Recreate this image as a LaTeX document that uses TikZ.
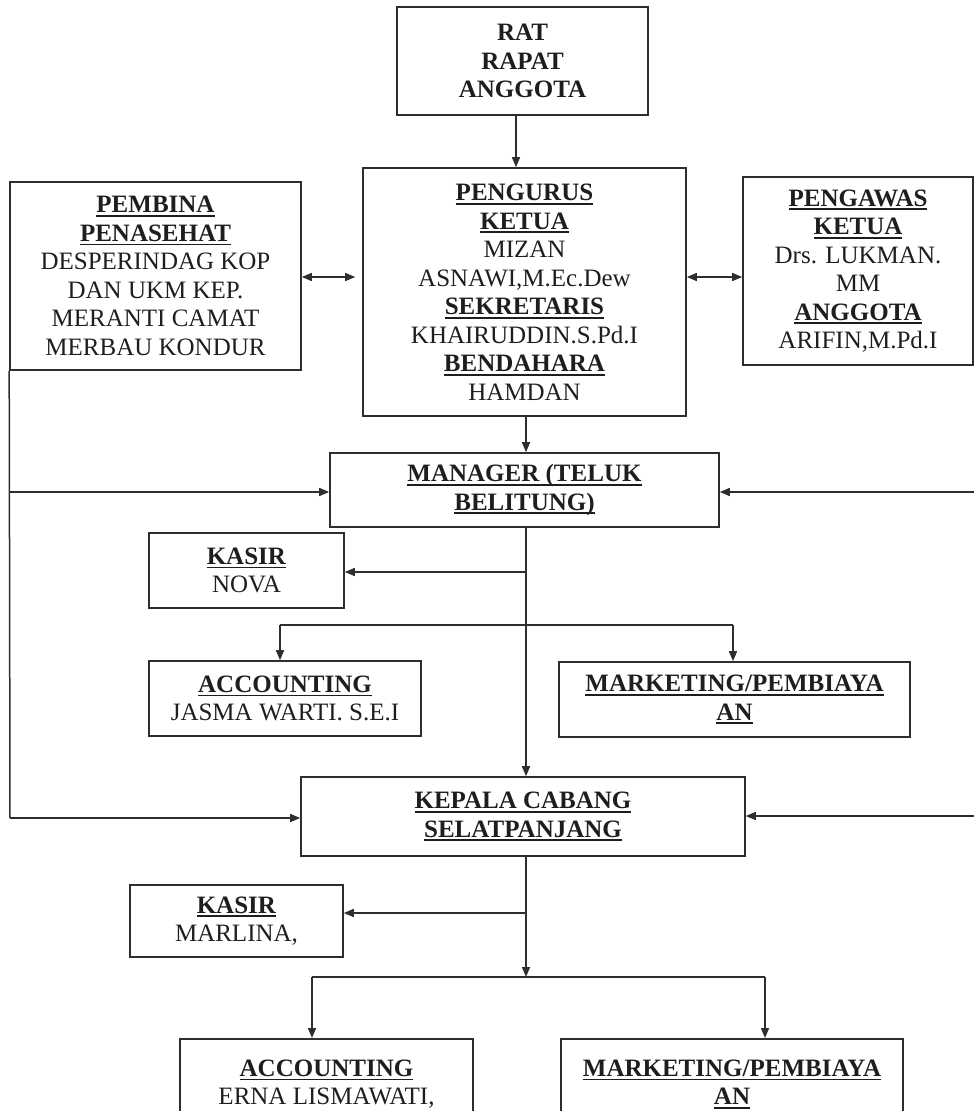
\documentclass[tikz,border=0pt]{standalone}
\usepackage{fontspec}
\setmainfont{Liberation Serif}
\usetikzlibrary{arrows.meta}
\definecolor{linec}{HTML}{2E2E2E}
\definecolor{txt}{HTML}{1E1E1E}
\newcommand\hd[1]{\setbox0\hbox{\textbf{#1}}\rlap{\rule[-4pt]{\wd0}{1.8pt}}\box0}
\begin{document}
\begin{tikzpicture}[x=1pt,y=-1pt,
  box/.style={draw=linec, line width=1.6pt, align=center, inner sep=0pt,
    font=\fontsize{25}{28.5}\selectfont, text=txt},
  conn/.style={draw=linec, line width=1.5pt},
  arr/.style={conn, -{Triangle[length=10pt,width=8pt]}},
  darr/.style={conn, {Triangle[length=10pt,width=8pt]}-{Triangle[length=10pt,width=8pt]}}]
\useasboundingbox (0,0) rectangle (974,1111);
\clip (0,0) rectangle (974,1111);
\fill[white] (0,0) rectangle (974,1111);

% boxes
\node[box, minimum width=251pt, minimum height=108pt] (rat) at (522.5,61)
  {\textbf{RAT}\\\textbf{RAPAT}\\\textbf{ANGGOTA}};
\node[box, minimum width=323pt, minimum height=248pt] (peng) at (524.5,292)
  {\hd{PENGURUS}\\\hd{KETUA}\\MIZAN\\ASNAWI,M.Ec.Dew\\\hd{SEKRETARIS}\\KHAIRUDDIN.S.Pd.I\\\hd{BENDAHARA}\\HAMDAN};
\node[box, minimum width=291pt, minimum height=188pt] (pemb) at (155.5,276)
  {\hd{PEMBINA}\\\hd{PENASEHAT}\\DESPERINDAG KOP\\DAN UKM KEP.\\MERANTI CAMAT\\MERBAU KONDUR};
\node[box, minimum width=230pt, minimum height=188pt] (pengw) at (858,271)
  {\hd{PENGAWAS}\\\hd{KETUA}\\Drs. LUKMAN.\\MM\\\hd{ANGGOTA}\\ARIFIN,M.Pd.I};
\node[box, minimum width=389pt, minimum height=74pt] (mgr) at (524.5,490)
  {\hd{MANAGER (TELUK}\\\hd{BELITUNG)}};
\node[box, minimum width=195pt, minimum height=75pt] (kasir1) at (246.5,570.5)
  {\hd{KASIR}\\NOVA};
\node[box, minimum width=272pt, minimum height=75pt] (acc1) at (285,698.5)
  {\hd{ACCOUNTING}\\JASMA WARTI. S.E.I};
\node[box, minimum width=351pt, minimum height=75pt] (mkt1) at (734.5,699.5)
  {\hd{MARKETING/PEMBIAYA}\\\hd{AN}};
\node[box, minimum width=444pt, minimum height=79pt] (kep) at (523,816.5)
  {\hd{KEPALA CABANG}\\\hd{SELATPANJANG}};
\node[box, minimum width=213pt, minimum height=72pt] (kasir2) at (236.5,921)
  {\hd{KASIR}\\MARLINA,};
\node[box, minimum width=293pt, inner ysep=21pt, text depth=90pt, anchor=north] (acc2) at (326.5,1038)
  {\hd{ACCOUNTING}\\ERNA LISMAWATI,};
\node[box, minimum width=342pt, inner ysep=21pt, text depth=90pt, anchor=north] (mkt2) at (732,1038)
  {\hd{MARKETING/PEMBIAYA}\\\hd{AN}};

% coordinates
\coordinate (sp) at (526,0);
\coordinate (dy) at (0,277);
\coordinate (L1) at (10,492);
\coordinate (L2) at (10,818);
\coordinate (R1) at (974,492);
\coordinate (R2) at (974,816);
\coordinate (k1) at (526,572);
\coordinate (b1l) at (280,625);
\coordinate (b1r) at (733,625);
\coordinate (k2) at (526,913);
\coordinate (b2) at (526,977);
\coordinate (b2l) at (312,977);
\coordinate (b2r) at (765,977);

% connectors
\draw[arr] ([xshift=-6.5pt]rat.south) -- ([xshift=-8.5pt]peng.north);
\draw[darr, shorten >=7pt] (pemb.east |- dy) -- (peng.west |- dy);
\draw[darr] (peng.east |- dy) -- (pengw.west |- dy);
\draw[arr] (peng.south -| sp) -- (mgr.north -| sp);
\draw[conn] (pemb.south west) -- (L2);
\draw[arr] (L1) -- (L1 -| mgr.west);
\draw[arr] (L2) -- (L2 -| kep.west);
\draw[arr] (R1) -- (R1 -| mgr.east);
\draw[arr] (R2) -- (R2 -| kep.east);
\draw[arr] (mgr.south -| sp) -- (kep.north -| sp);
\draw[arr] (k1) -- (k1 -| kasir1.east);
\draw[conn] (b1l) -- (b1r);
\draw[arr] (b1l) -- (b1l |- acc1.north);
\draw[arr] (b1r) -- (b1r |- mkt1.north);
\draw[arr] (kep.south -| sp) -- (b2);
\draw[arr] (k2) -- (k2 -| kasir2.east);
\draw[conn] (b2l) -- (b2r);
\draw[arr] (b2l) -- (b2l |- acc2.north);
\draw[arr] (b2r) -- (b2r |- mkt2.north);
\end{tikzpicture}
\end{document}
